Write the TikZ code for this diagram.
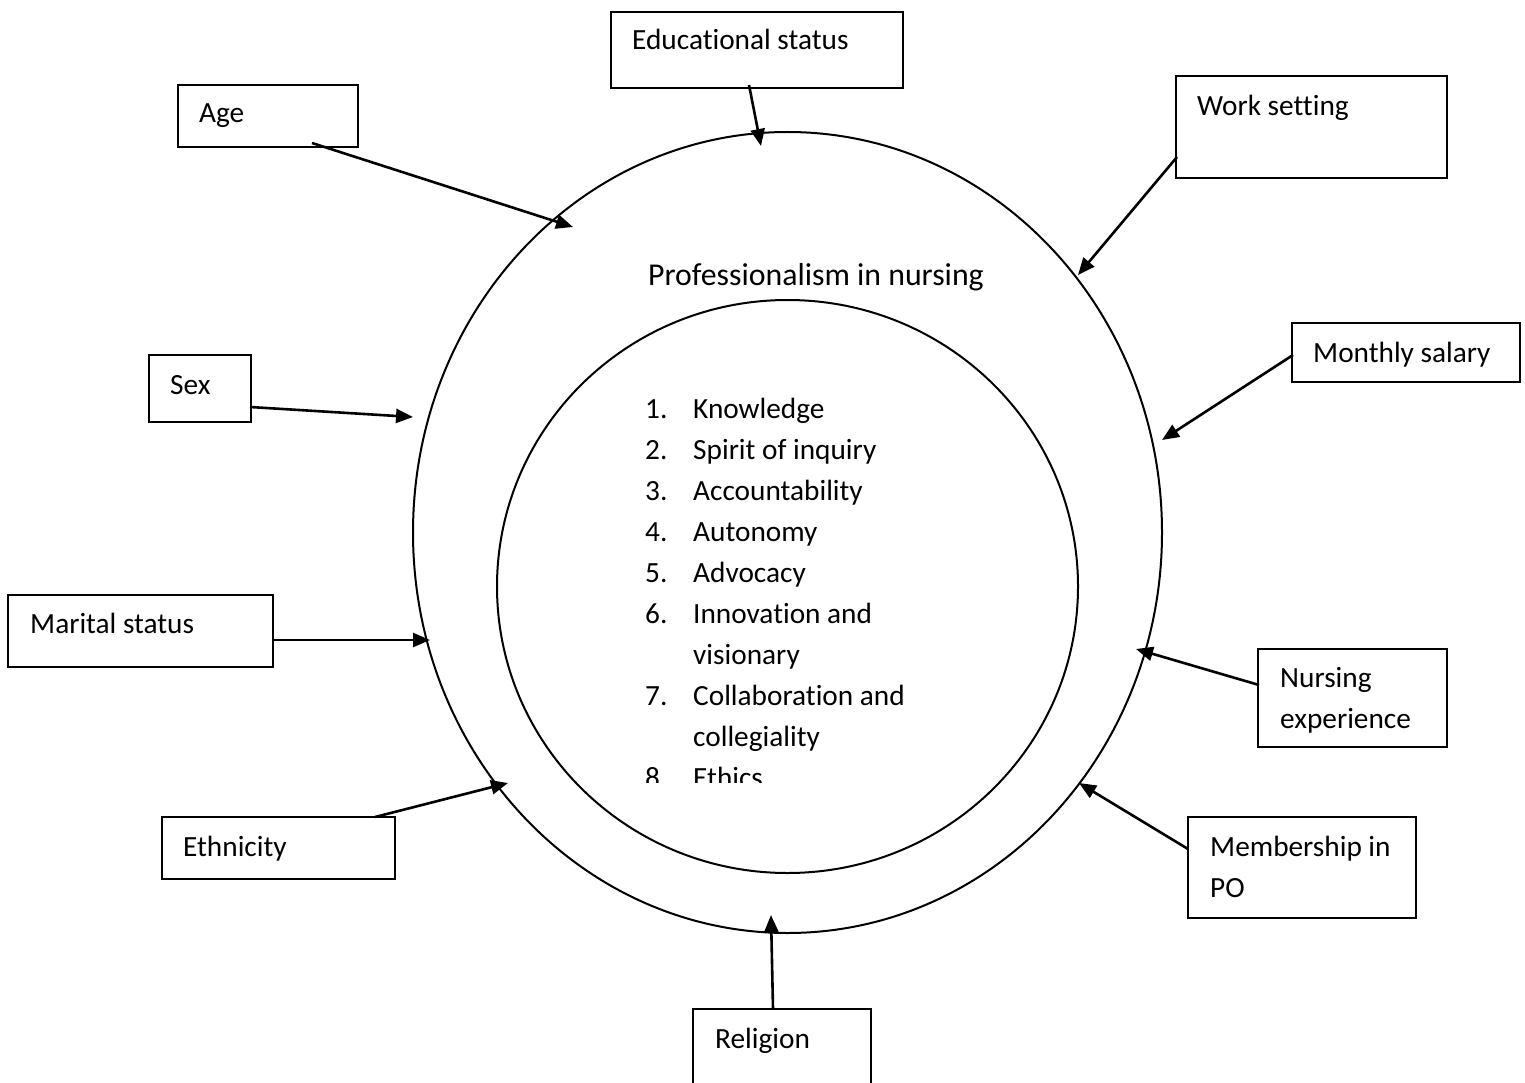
\documentclass[tikz,border=0pt]{standalone}
\usepackage{fontspec}
\setmainfont{Carlito}[Ligatures=NoCommon]
\usetikzlibrary{arrows.meta,shapes.geometric}
\begin{document}
\begin{tikzpicture}[x=1pt,y=-1pt,
  box/.style={draw, line width=2pt, inner sep=0pt, outer sep=0pt},
  ring/.style={draw, ellipse, line width=2pt, inner sep=0pt, outer sep=0pt},
  lbl/.style={anchor=base west, inner sep=0pt, font=\fontsize{29.3}{41}\selectfont},
  feed/.style={line width=2.6pt, -{Triangle[length=17pt,width=14pt]}}]
\clip (0,0) rectangle (1525,1083);

% the two rings
\node[ring, minimum width=749, minimum height=801] (outer) at (787.5,532.5) {};
\node[ring, minimum width=581, minimum height=573] (inner) at (787.5,586.5) {};

% title and list of attributes
\node[lbl, font=\fontsize{31.8}{41}\selectfont] (title) at (648,286) {Professionalism in nursing};
\begin{scope}
  \clip (600,300) rectangle (1000,782);
  \foreach \n/\t/\y in {1./Knowledge/418, 2./Spirit of inquiry/459,
      3./Accountability/500, 4./Autonomy/541, 5./Advocacy/582,
      6./Innovation and/623, /visionary/664, 7./Collaboration and/705,
      /collegiality/746, 8./Ethics/787} {
    \node[lbl] at (645,\y) {\n};
    \node[lbl] at (693,\y) {\t};
  }
\end{scope}

% factor boxes
\node[box, minimum width=292, minimum height=76] (edu) at (757,50) {};
\node[box, minimum width=180, minimum height=62] (age) at (268,116) {};
\node[box, minimum width=271, minimum height=102] (work) at (1311.5,127) {};
\node[box, minimum width=228, minimum height=59] (salary) at (1406,352.5) {};
\node[box, minimum width=102, minimum height=67] (sex) at (200,388.5) {};
\node[box, minimum width=265, minimum height=72] (marital) at (140.5,631) {};
\node[box, minimum width=233, minimum height=62] (ethnic) at (278.5,848) {};
\node[box, minimum width=189, minimum height=98] (nursing) at (1352.5,698) {};
\node[box, minimum width=228, minimum height=101] (member) at (1302,867.5) {};
\node[box, minimum width=178, minimum height=100] (religion) at (782,1059) {};

% box labels
\node[lbl] at (632,50) {Educational status};
\node[lbl] at (199,123) {Age};
\node[lbl] at (1197,116) {Work setting};
\node[lbl] at (1313,362) {Monthly salary};
\node[lbl] at (170,394) {Sex};
\node[lbl] at (30,633) {Marital status};
\node[lbl] at (183,856) {Ethnicity};
\node[lbl] at (1280,687) {Nursing};
\node[lbl] at (1280,728) {experience};
\node[lbl] at (1210,856) {Membership in};
\node[lbl] at (1210,897) {PO};
\node[lbl] at (715,1048) {Religion};

% arrow ends
\coordinate (eduS) at (749,85);      \coordinate (eduT) at (761,146);
\coordinate (ageS) at (312,143);     \coordinate (ageT) at (573,227);
\coordinate (workS) at (1177,157);   \coordinate (workT) at (1078,275);
\coordinate (salS) at (1293,355);    \coordinate (salT) at (1162,440);
\coordinate (sexS) at (250,407);     \coordinate (sexT) at (413,417);
\coordinate (marS) at (273,640);     \coordinate (marT) at (430,640);
\coordinate (ethS) at (375,817);     \coordinate (ethT) at (508,783);
\coordinate (nurS) at (1259,685);    \coordinate (nurT) at (1136,649);
\coordinate (memS) at (1188,849);    \coordinate (memT) at (1079,783);
\coordinate (relS) at (773,1009);    \coordinate (relT) at (771,915);

% arrows
\draw[feed] (eduS) -- (eduT);
\draw[feed] (ageS) -- (ageT);
\draw[feed] (workS) -- (workT);
\draw[feed] (salS) -- (salT);
\draw[feed] (sexS) -- (sexT);
\draw[feed] (marS) -- (marT);
\draw[feed] (ethS) -- (ethT);
\draw[feed] (nurS) -- (nurT);
\draw[feed] (memS) -- (memT);
\draw[feed] (relS) -- (relT);
\end{tikzpicture}
\end{document}
